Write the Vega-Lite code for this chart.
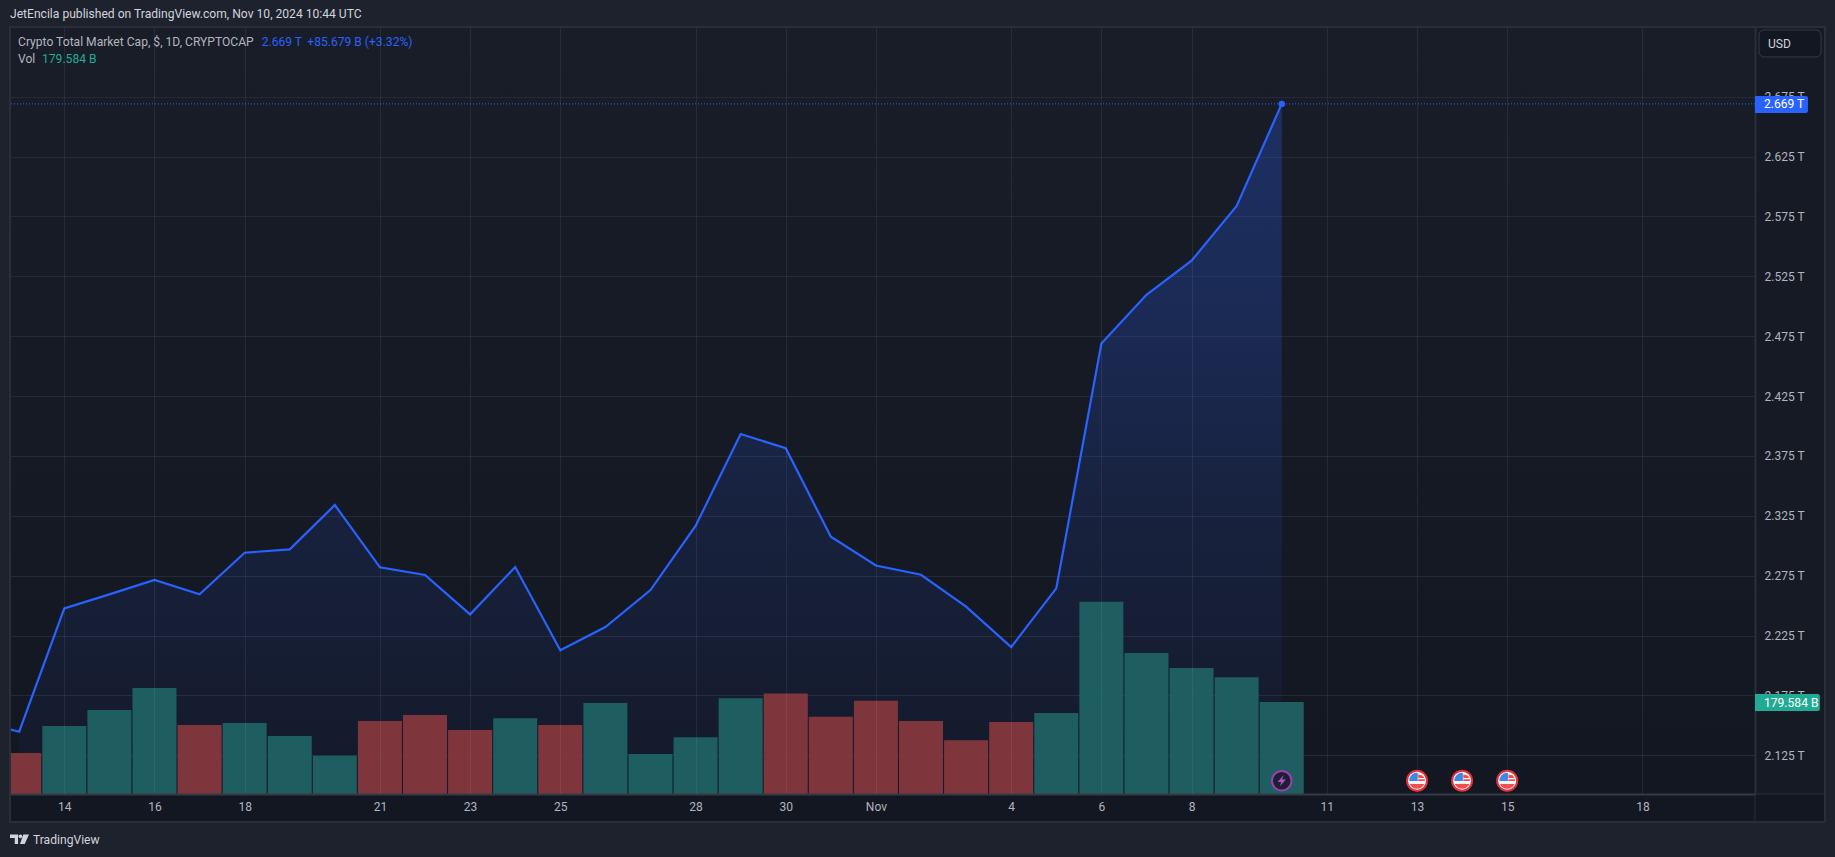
{
  "$schema": "https://vega.github.io/schema/vega-lite/v6.json",
  "width": 1745,
  "height": 767,
  "autosize": "none",
  "padding": {"left": 10, "top": 27, "right": 80, "bottom": 63},
  "background": "#161a25",
  "view": {
    "stroke": null,
    "fill": {
      "gradient": "linear", "x1": 0, "y1": 0, "x2": 0, "y2": 1,
      "stops": [{"offset": 0, "color": "#191d28"}, {"offset": 1, "color": "#131722"}]
    }
  },
  "config": {"font": "Roboto"},
  "title": {
    "text": "JetEncila published on TradingView.com, Nov 10, 2024 10:44 UTC",
    "anchor": "start",
    "frame": "group",
    "offset": 0,
    "dy": 20,
    "fontSize": 12.1,
    "fontWeight": "normal",
    "color": "#d1d4dc"
  },
  "datasets": {
    "days": [
      {"date": "2024-10-12", "price": 2.1547},
      {"date": "2024-10-13", "price": 2.1447, "volume": 80, "dir": "down"},
      {"date": "2024-10-14", "price": 2.2477, "volume": 132.7, "dir": "up"},
      {"date": "2024-10-15", "price": 2.2594, "volume": 164, "dir": "up"},
      {"date": "2024-10-16", "price": 2.2714, "volume": 207, "dir": "up"},
      {"date": "2024-10-17", "price": 2.2594, "volume": 134.7, "dir": "down"},
      {"date": "2024-10-18", "price": 2.2942, "volume": 138.6, "dir": "up"},
      {"date": "2024-10-19", "price": 2.297, "volume": 113, "dir": "up"},
      {"date": "2024-10-20", "price": 2.334, "volume": 74.8, "dir": "up"},
      {"date": "2024-10-21", "price": 2.282, "volume": 142.5, "dir": "down"},
      {"date": "2024-10-22", "price": 2.2756, "volume": 154, "dir": "down"},
      {"date": "2024-10-23", "price": 2.2427, "volume": 125, "dir": "down"},
      {"date": "2024-10-24", "price": 2.2822, "volume": 148, "dir": "up"},
      {"date": "2024-10-25", "price": 2.2127, "volume": 134.7, "dir": "down"},
      {"date": "2024-10-26", "price": 2.2321, "volume": 177.6, "dir": "up"},
      {"date": "2024-10-27", "price": 2.263, "volume": 78, "dir": "up"},
      {"date": "2024-10-28", "price": 2.3165, "volume": 111, "dir": "up"},
      {"date": "2024-10-29", "price": 2.3933, "volume": 187, "dir": "up"},
      {"date": "2024-10-30", "price": 2.3814, "volume": 196, "dir": "down"},
      {"date": "2024-10-31", "price": 2.3075, "volume": 151, "dir": "down"},
      {"date": "2024-11-01", "price": 2.2835, "volume": 182, "dir": "down"},
      {"date": "2024-11-02", "price": 2.2758, "volume": 142.5, "dir": "down"},
      {"date": "2024-11-03", "price": 2.2491, "volume": 105, "dir": "down"},
      {"date": "2024-11-04", "price": 2.2154, "volume": 140.5, "dir": "down"},
      {"date": "2024-11-05", "price": 2.2644, "volume": 158, "dir": "up"},
      {"date": "2024-11-06", "price": 2.4689, "volume": 375, "dir": "up"},
      {"date": "2024-11-07", "price": 2.5096, "volume": 275, "dir": "up"},
      {"date": "2024-11-08", "price": 2.538, "volume": 246, "dir": "up"},
      {"date": "2024-11-09", "price": 2.5837, "volume": 228, "dir": "up"},
      {"date": "2024-11-10", "price": 2.669, "volume": 179.584, "dir": "up"}
    ],
    "panels": [
      {"part": "margin", "from": "2024-10-12T13:46:00Z", "to": "2024-11-22T06:30:00Z", "high": 2.7557, "low": 2.734},
      {"part": "margin", "from": "2024-10-12T13:46:00Z", "to": "2024-10-12T18:34:00Z", "high": 2.734, "low": 2.0685},
      {"part": "margin", "from": "2024-11-22T01:41:00Z", "to": "2024-11-22T06:30:00Z", "high": 2.734, "low": 2.0685},
      {"part": "margin", "from": "2024-10-12T13:46:00Z", "to": "2024-11-22T06:30:00Z", "high": 2.0685, "low": 2.04},
      {"part": "timeaxis", "from": "2024-10-12T19:06:00Z", "to": "2024-11-22T01:10:00Z", "high": 2.0927, "low": 2.0693}
    ],
    "events": [
      {"date": "2024-11-10", "kind": "bolt", "level": 2.1038},
      {"date": "2024-11-13", "kind": "flag", "level": 2.1038},
      {"date": "2024-11-14", "kind": "flag", "level": 2.1038},
      {"date": "2024-11-15", "kind": "flag", "level": 2.1038}
    ],
    "tags": [
      {"tone": "blue", "from": "2024-11-20T11:54:00Z", "to": "2024-11-21T16:05:00Z", "high": 2.6756, "low": 2.6614},
      {"tone": "teal", "from": "2024-11-20T11:54:00Z", "to": "2024-11-21T22:24:00Z", "high": 2.1762, "low": 2.162}
    ],
    "notes": [
      {"at": "2024-10-12T23:22:00Z", "level": 2.7207, "label": "Crypto Total Market Cap, $, 1D, CRYPTOCAP", "tone": "plain"},
      {"at": "2024-10-18T09:04:00Z", "level": 2.7207, "label": "2.669 T", "tone": "blue"},
      {"at": "2024-10-19T09:20:00Z", "level": 2.7207, "label": "+85.679 B (+3.32%)", "tone": "blue"},
      {"at": "2024-10-12T23:22:00Z", "level": 2.7065, "label": "Vol", "tone": "plain"},
      {"at": "2024-10-13T12:08:00Z", "level": 2.7065, "label": "179.584 B", "tone": "teal"},
      {"at": "2024-11-20T18:50:00Z", "level": 2.719, "label": "USD", "tone": "bright"},
      {"at": "2024-11-20T16:41:00Z", "level": 2.6689, "label": "2.669 T", "tone": "white"},
      {"at": "2024-11-20T16:41:00Z", "level": 2.1691, "label": "179.584 B", "tone": "white"},
      {"at": "2024-10-13T07:20:00Z", "level": 2.0542, "label": "TradingView", "tone": "bright"}
    ]
  },
  "layer": [
    {
      "layer": [
        {
          "data": {"name": "panels"},
          "mark": {"type": "rect"},
          "encoding": {
            "x": {
              "field": "from", "type": "temporal", "title": null,
              "scale": {"type": "utc", "domain": [1728759957000, 1732103654400], "nice": false, "padding": 0},
              "axis": {
                "values": [1728864000000, 1729036800000, 1729209600000, 1729468800000, 1729641600000, 1729814400000, 1730073600000, 1730246400000, 1730419200000, 1730678400000, 1730851200000, 1731024000000, 1731283200000, 1731456000000, 1731628800000, 1731888000000],
                "labelExpr": "utcdate(datum.value) == 1 ? 'Nov' : '' + utcdate(datum.value)",
                "grid": true, "gridColor": "rgba(255,255,255,0.065)", "gridWidth": 1,
                "domain": true, "domainColor": "#363a45", "domainWidth": 2,
                "ticks": false, "labelPadding": 12, "labelFontSize": 12, "labelColor": "#b2b5be",
                "labelBaseline": "middle", "labelFlush": false, "labelOverlap": false, "zindex": 1
              }
            },
            "x2": {"field": "to"},
            "y": {
              "field": "high", "type": "quantitative", "title": null,
              "scale": {"domain": [2.0927, 2.7332], "zero": false, "nice": false},
              "axis": {
                "orient": "right",
                "values": [2.125, 2.175, 2.225, 2.275, 2.325, 2.375, 2.425, 2.475, 2.525, 2.575, 2.625, 2.675],
                "labelExpr": "format(datum.value, '.3f') + ' T'",
                "grid": true, "gridColor": "#262a35", "gridWidth": 1,
                "domain": true, "domainColor": "#2a2e39", "domainWidth": 2,
                "ticks": false, "labelPadding": 9, "labelFontSize": 12, "labelColor": "#b2b5be",
                "labelFlush": false, "labelOverlap": false, "zindex": 0
              }
            },
            "y2": {"field": "low"},
            "color": {
              "field": "part", "type": "nominal", "legend": null,
              "scale": {"domain": ["margin", "timeaxis"], "range": ["#1e222d", "#131722"]}
            }
          }
        },
        {
          "data": {"name": "days"},
          "transform": [{"filter": "datum.volume != null"}],
          "mark": {
            "type": "area",
            "clip": true,
            "color": {
              "gradient": "linear", "x1": 0, "y1": 0, "x2": 0, "y2": 1,
              "stops": [
                {"offset": 0, "color": "rgba(41,98,255,0.28)"},
                {"offset": 0.28, "color": "rgba(41,98,255,0.225)"},
                {"offset": 0.62, "color": "rgba(41,98,255,0.11)"},
                {"offset": 1, "color": "rgba(41,98,255,0.03)"}
              ]
            }
          },
          "encoding": {
            "x": {"field": "date", "type": "temporal"},
            "y": {"field": "price", "type": "quantitative", "stack": null},
            "y2": {"datum": 2.0927}
          }
        },
        {
          "data": {"name": "days"},
          "mark": {"type": "line", "clip": true, "color": "#2962ff", "strokeWidth": 2.2},
          "encoding": {
            "x": {"field": "date", "type": "temporal"},
            "y": {"field": "price", "type": "quantitative"}
          }
        },
        {
          "data": {"name": "days"},
          "transform": [{"filter": "datum.price == 2.669"}],
          "mark": {"type": "rule", "color": "#2962ff", "strokeWidth": 1, "strokeDash": [1, 2]},
          "encoding": {"y": {"field": "price", "type": "quantitative"}}
        },
        {
          "data": {"name": "days"},
          "transform": [{"filter": "datum.price == 2.669"}],
          "mark": {"type": "point", "filled": true, "opacity": 1, "color": "#2962ff", "size": 42},
          "encoding": {
            "x": {"field": "date", "type": "temporal"},
            "y": {"field": "price", "type": "quantitative"}
          }
        }
      ]
    },
    {
      "data": {"name": "days"},
      "transform": [{"filter": "datum.volume != null"}],
      "mark": {"type": "bar", "size": 44, "clip": true, "opacity": 0.97},
      "encoding": {
        "x": {
          "field": "date", "type": "temporal",
          "scale": {"type": "utc", "domain": [1728759957000, 1732103654400], "nice": false, "padding": 0}
        },
        "y": {
          "field": "volume", "type": "quantitative",
          "scale": {"domain": [0, 1497], "nice": false},
          "axis": null
        },
        "color": {
          "field": "dir", "type": "nominal", "legend": null,
          "scale": {"domain": ["up", "down"], "range": ["#1f6062", "#82383d"]}
        }
      }
    },
    {
      "layer": [
        {
          "data": {"name": "tags"},
          "mark": {"type": "rect", "cornerRadiusTopRight": 2, "cornerRadiusBottomRight": 2},
          "encoding": {
            "x": {"field": "from", "type": "temporal"},
            "x2": {"field": "to"},
            "y": {
              "field": "high", "type": "quantitative",
              "scale": {"domain": [2.0927, 2.7332], "zero": false, "nice": false},
              "axis": null
            },
            "y2": {"field": "low"},
            "color": {
              "field": "tone", "type": "nominal", "legend": null,
              "scale": {
                "domain": ["plain", "blue", "teal", "bright", "white"],
                "range": ["#b2b5be", "#2962ff", "#22ab94", "#d1d4dc", "#ffffff"]
              }
            }
          }
        },
        {
          "data": {"values": [{"from": "2024-11-20T14:03:00Z", "to": "2024-11-21T23:02:00Z", "high": 2.7307, "low": 2.7082}]},
          "mark": {"type": "rect", "fill": "#131722", "stroke": "#363a45", "strokeWidth": 1, "cornerRadius": 5},
          "encoding": {
            "x": {"field": "from", "type": "temporal"},
            "x2": {"field": "to"},
            "y": {"field": "high", "type": "quantitative"},
            "y2": {"field": "low"}
          }
        },
        {
          "data": {"values": [{"from": "2024-10-12T19:06:00Z", "to": "2024-11-22T01:10:00Z", "high": 2.7332, "low": 2.0693}]},
          "mark": {"type": "rect", "fill": null, "stroke": "#2a2e39", "strokeWidth": 2},
          "encoding": {
            "x": {"field": "from", "type": "temporal"},
            "x2": {"field": "to"},
            "y": {"field": "high", "type": "quantitative"},
            "y2": {"field": "low"}
          }
        },
        {
          "data": {"values": [{"from": "2024-11-20T11:54:00Z", "to": "2024-11-22T01:10:00Z", "high": 2.0927, "low": 2.0693}]},
          "mark": {"type": "rect", "fill": null, "stroke": "#2a2e39", "strokeWidth": 1},
          "encoding": {
            "x": {"field": "from", "type": "temporal"},
            "x2": {"field": "to"},
            "y": {"field": "high", "type": "quantitative"},
            "y2": {"field": "low"}
          }
        },
        {
          "data": {"name": "events"},
          "transform": [{"filter": "datum.kind == 'flag'"}],
          "mark": {"type": "point", "shape": "circle", "filled": true, "opacity": 1, "fill": "#f5f5f5", "stroke": "#e5303c", "strokeOpacity": 1, "strokeWidth": 2, "size": 400},
          "encoding": {
            "x": {"field": "date", "type": "temporal"},
            "y": {"field": "level", "type": "quantitative"}
          }
        },
        {
          "data": {"name": "events"},
          "transform": [{"filter": "datum.kind == 'flag'"}],
          "mark": {
            "type": "point", "filled": true, "opacity": 1, "color": "#3f86e8", "size": 400,
            "shape": "M0.08,-0.78 A0.78,0.78 0 0 0 -0.78,0.02 L0.08,0.02 Z"
          },
          "encoding": {
            "x": {"field": "date", "type": "temporal"},
            "y": {"field": "level", "type": "quantitative"}
          }
        },
        {
          "data": {"name": "events"},
          "transform": [{"filter": "datum.kind == 'flag'"}],
          "mark": {
            "type": "point", "filled": true, "opacity": 1, "color": "#ef4f4f", "size": 400,
            "shape": "M0.12,-0.62 L0.55,-0.52 A0.78,0.78 0 0 1 0.72,-0.28 L0.12,-0.28 Z M0.12,-0.14 L0.78,-0.14 L0.78,0.02 L0.12,0.02 Z M-0.72,0.32 L0.72,0.32 A0.78,0.78 0 0 1 -0.72,0.32 Z"
          },
          "encoding": {
            "x": {"field": "date", "type": "temporal"},
            "y": {"field": "level", "type": "quantitative"}
          }
        },
        {
          "data": {"name": "events"},
          "transform": [{"filter": "datum.kind == 'bolt'"}],
          "mark": {"type": "point", "shape": "circle", "filled": true, "opacity": 1, "fill": "#1c2030", "stroke": "#9c3fb0", "strokeOpacity": 1, "strokeWidth": 2, "size": 380},
          "encoding": {
            "x": {"field": "date", "type": "temporal"},
            "y": {"field": "level", "type": "quantitative"}
          }
        },
        {
          "data": {"name": "events"},
          "transform": [{"filter": "datum.kind == 'bolt'"}],
          "mark": {
            "type": "point", "filled": true, "opacity": 1, "color": "#b04fcc", "size": 400,
            "shape": "M0.18,-0.55 L-0.42,0.12 L-0.05,0.12 L-0.18,0.55 L0.42,-0.12 L0.05,-0.12 Z"
          },
          "encoding": {
            "x": {"field": "date", "type": "temporal"},
            "y": {"field": "level", "type": "quantitative"}
          }
        },
        {
          "data": {"values": [{"at": "2024-10-13T00:09:00Z", "level": 2.055}]},
          "mark": {
            "type": "point", "filled": true, "opacity": 1, "color": "#d1d4dc", "size": 361,
            "shape": "M-1,-0.5 H-0.15 V0.5 H-0.5 V-0.12 H-1 Z M0.3,-0.3 A0.2,0.2 0 1 1 -0.1,-0.3 A0.2,0.2 0 1 1 0.3,-0.3 Z M0.4,-0.5 H1 L0.55,0.5 H0.05 Z"
          },
          "encoding": {
            "x": {"field": "at", "type": "temporal"},
            "y": {"field": "level", "type": "quantitative"}
          }
        },
        {
          "data": {"name": "notes"},
          "mark": {"type": "text", "align": "left", "baseline": "middle", "fontSize": 12.1},
          "encoding": {
            "x": {"field": "at", "type": "temporal"},
            "y": {"field": "level", "type": "quantitative"},
            "text": {"field": "label"},
            "color": {
              "field": "tone", "type": "nominal", "legend": null,
              "scale": {
                "domain": ["plain", "blue", "teal", "bright", "white"],
                "range": ["#b2b5be", "#2962ff", "#22ab94", "#d1d4dc", "#ffffff"]
              }
            }
          }
        }
      ]
    }
  ],
  "resolve": {"scale": {"y": "independent", "color": "independent"}}
}
